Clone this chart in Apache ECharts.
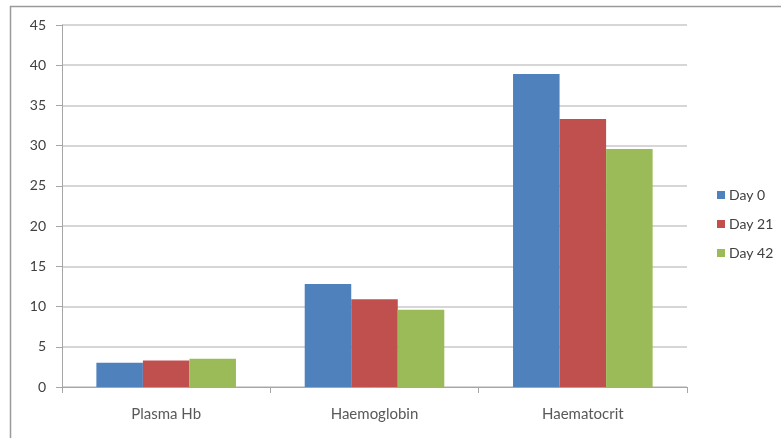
<!DOCTYPE html>
<html>
<head>
<meta charset="utf-8">
<script src="https://cdn.jsdelivr.net/npm/echarts@6/dist/echarts.min.js"></script>
<style>
  html, body { margin: 0; padding: 0; background: #fff; }
  #chart { width: 781px; height: 438px; }
</style>
</head>
<body>
<div id="chart"></div>
<script>
// Blood parameters measured at three time points
const categories = ['Plasma Hb', 'Haemoglobin', 'Haematocrit'];
const day0 = [3.0, 12.8, 38.9];
const day21 = [3.3, 10.9, 33.3];
const day42 = [3.5, 9.6, 29.6];
const seriesNames = ['Day 0', 'Day 21', 'Day 42'];
const yTicks = { min: 0, max: 45, interval: 5 };

const colors = ['#4F81BD', '#C0504D', '#9BBB59'];
const fontFamily = 'Lato, "Open Sans", sans-serif';

const chart = echarts.init(document.getElementById('chart'));
chart.setOption({
  animation: false,
  color: colors,
  graphic: [{
    type: 'rect',
    shape: { x: 10.5, y: 6.5, width: 900, height: 600 },
    style: { fill: 'none', stroke: '#9a9a9a', lineWidth: 1.5 },
    silent: true
  }],
  grid: { left: 62, right: 94, top: 25, bottom: 51, containLabel: false },
  legend: {
    orient: 'vertical',
    left: 712,
    top: 183,
    itemWidth: 8,
    itemHeight: 8,
    itemGap: 15,
    icon: 'rect',
    textStyle: { fontFamily, fontSize: 14, color: '#404040', padding: [0, 0, 0, -1] },
    data: seriesNames
  },
  xAxis: {
    type: 'category',
    data: categories,
    axisLine: { lineStyle: { color: '#a6a6a6', width: 1 } },
    axisTick: { show: true, alignWithLabel: false, length: 6, lineStyle: { color: '#a6a6a6' } },
    axisLabel: { fontFamily, fontSize: 15, color: '#595959', margin: 20 },
    splitLine: { show: false }
  },
  yAxis: {
    type: 'value',
    min: yTicks.min,
    max: yTicks.max,
    interval: yTicks.interval,
    axisLine: { show: true, lineStyle: { color: '#a6a6a6', width: 1 } },
    axisTick: { show: true, length: 6, lineStyle: { color: '#a6a6a6' } },
    axisLabel: { fontFamily, fontSize: 14, color: '#404040', margin: 16 },
    splitLine: { lineStyle: { color: '#c8c8c8', width: 1.5 } }
  },
  series: [
    { name: seriesNames[0], type: 'bar', data: day0, barGap: '0%', barCategoryGap: '33%' },
    { name: seriesNames[1], type: 'bar', data: day21, barGap: '0%', barCategoryGap: '33%' },
    { name: seriesNames[2], type: 'bar', data: day42, barGap: '0%', barCategoryGap: '33%' }
  ]
});
</script>
</body>
</html>
